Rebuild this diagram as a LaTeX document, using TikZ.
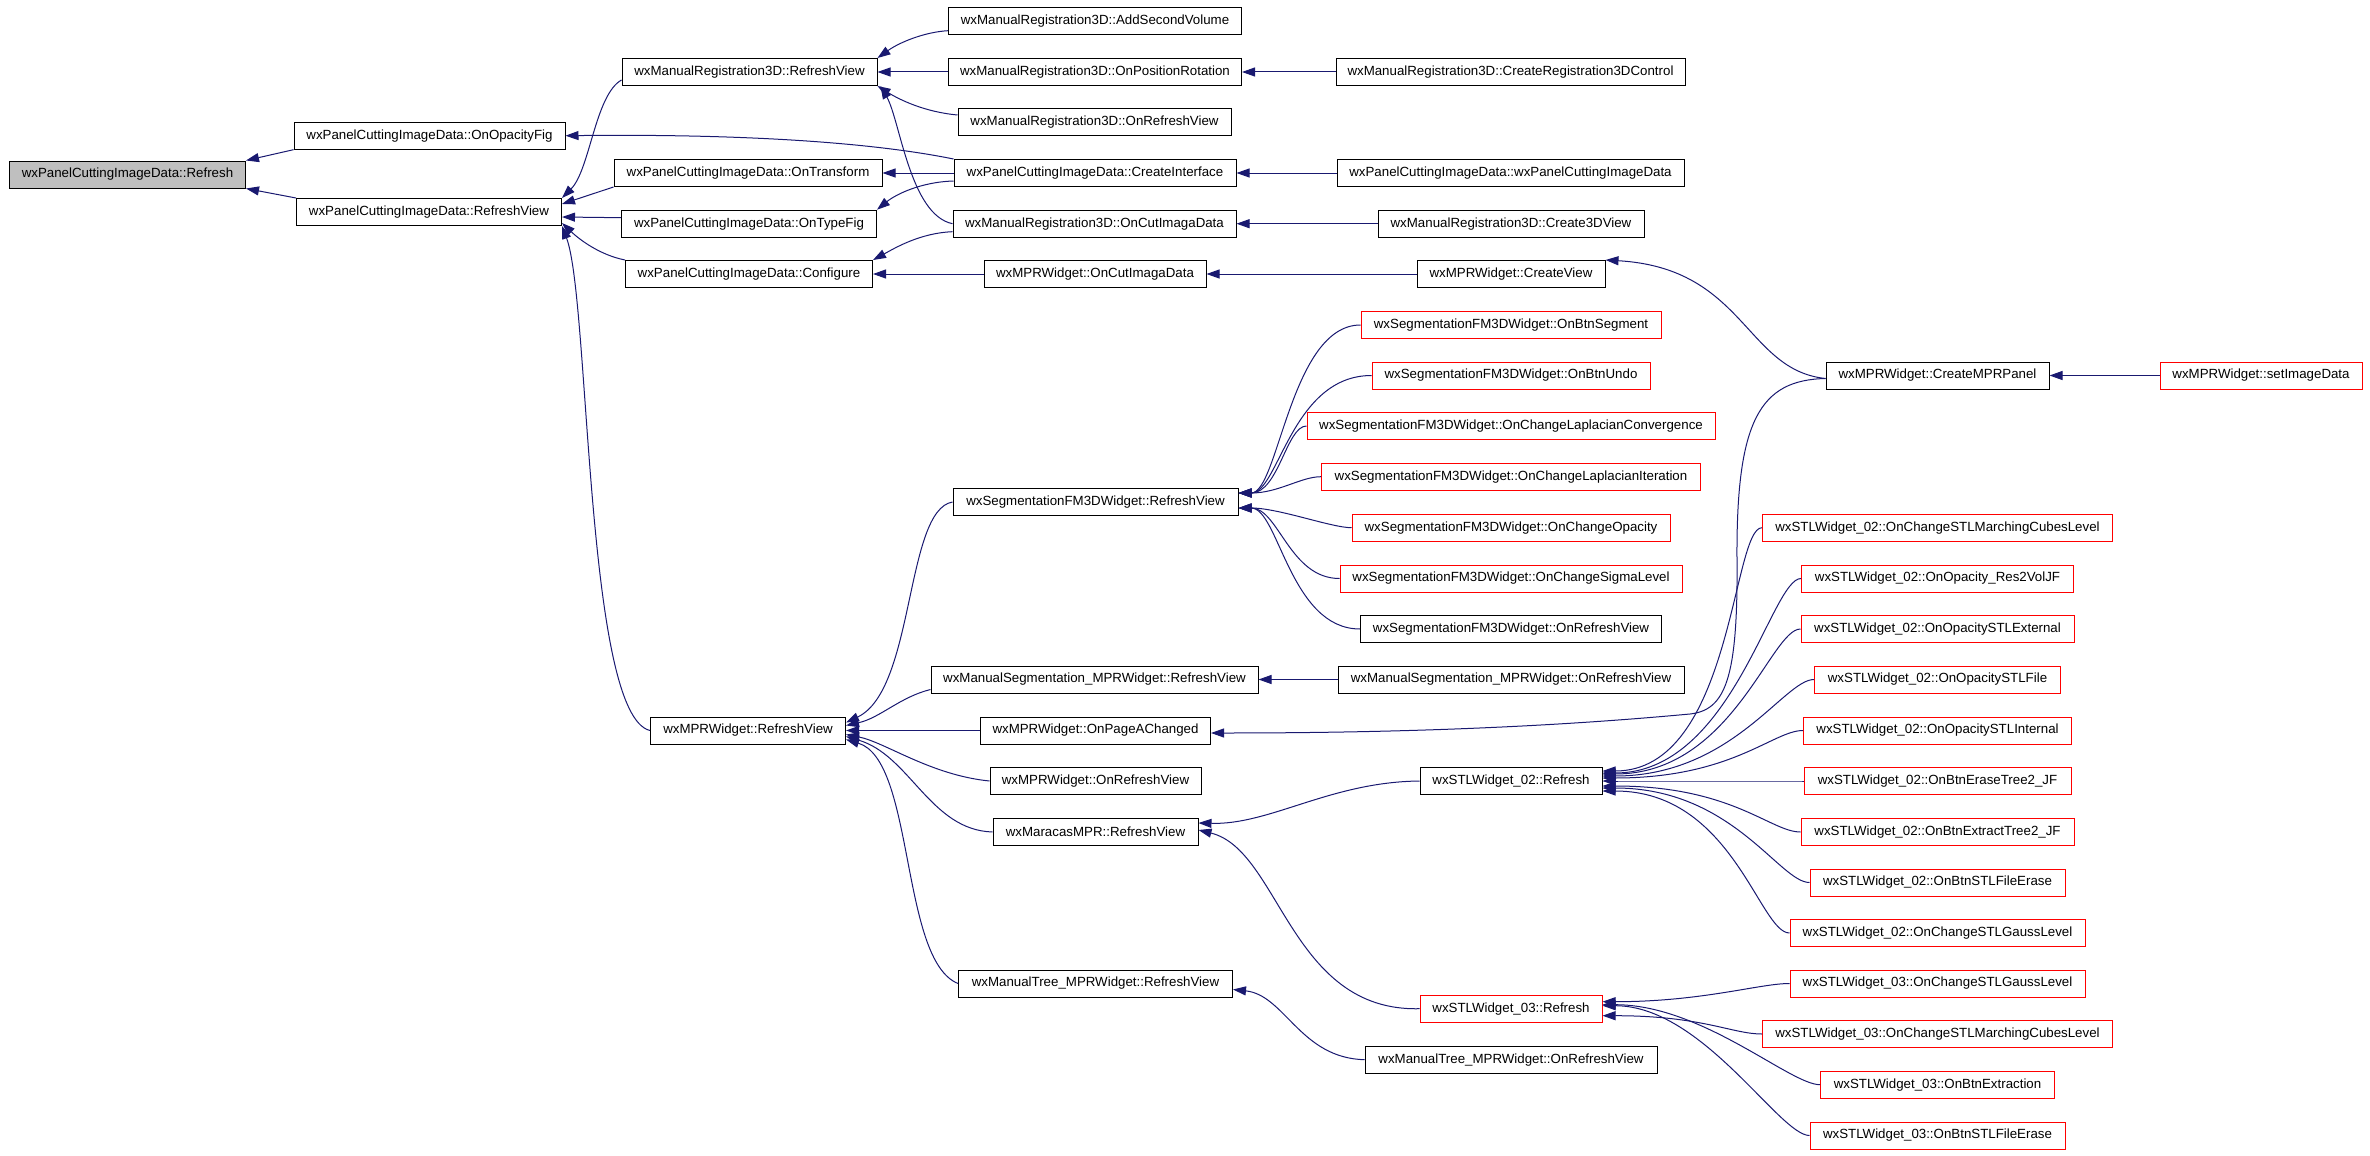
\documentclass[tikz,border=0pt]{standalone}
\usepackage{fontspec}
\setmainfont{Liberation Sans}
\usepackage{xcolor}
\usepackage{tikz}
\usetikzlibrary{arrows.meta}
\definecolor{callblue}{RGB}{25,25,112}

\begin{document}
\begin{tikzpicture}[x=1pt,y=1pt,
  fnbox/.style={draw=black,line width=1pt,minimum height=27,inner sep=0pt,font=\fontsize{13.3}{16}\selectfont},
  rootbox/.style={fnbox,fill=black!25},
  leafbox/.style={fnbox,draw=red},
  call/.style={draw=callblue,line width=1pt,-{Triangle[length=13pt,width=9pt]}}]
\useasboundingbox (0,0) rectangle (2370,-1156);

\node[rootbox,minimum width=236] (refresh) at (127.5,-174.5) {wxPanelCuttingImageData::Refresh};
\node[fnbox,minimum width=271] (opacityfig) at (429.5,-135.7) {wxPanelCuttingImageData::OnOpacityFig};
\node[fnbox,minimum width=265] (cutrefresh) at (429,-212) {wxPanelCuttingImageData::RefreshView};
\node[fnbox,minimum width=255] (regrefresh) at (749.5,-72) {wxManualRegistration3D::RefreshView};
\node[fnbox,minimum width=268] (transform) at (748,-173) {wxPanelCuttingImageData::OnTransform};
\node[fnbox,minimum width=255] (typefig) at (749,-223.7) {wxPanelCuttingImageData::OnTypeFig};
\node[fnbox,minimum width=247] (configure) at (749,-274) {wxPanelCuttingImageData::Configure};
\node[fnbox,minimum width=195] (mprrefresh) at (748,-730.5) {wxMPRWidget::RefreshView};

\node[fnbox,minimum width=293] (secondvol) at (1095,-20.7) {wxManualRegistration3D::AddSecondVolume};
\node[fnbox,minimum width=293] (posrot) at (1095,-72) {wxManualRegistration3D::OnPositionRotation};
\node[fnbox,minimum width=273] (regonrefresh) at (1094.5,-122) {wxManualRegistration3D::OnRefreshView};
\node[fnbox,minimum width=282] (interface) at (1095,-173) {wxPanelCuttingImageData::CreateInterface};
\node[fnbox,minimum width=283] (regcut) at (1094.5,-223.7) {wxManualRegistration3D::OnCutImagaData};
\node[fnbox,minimum width=222] (mprcut) at (1095,-274) {wxMPRWidget::OnCutImagaData};
\node[fnbox,minimum width=285] (segrefresh) at (1095.5,-502) {wxSegmentationFM3DWidget::RefreshView};
\node[fnbox,minimum width=327] (manrefresh) at (1094.5,-679.5) {wxManualSegmentation\_MPRWidget::RefreshView};
\node[fnbox,minimum width=230] (pagechanged) at (1095.5,-730.5) {wxMPRWidget::OnPageAChanged};
\node[fnbox,minimum width=211] (mpronrefresh) at (1095.5,-781) {wxMPRWidget::OnRefreshView};
\node[fnbox,minimum width=205] (maracasrefresh) at (1095.5,-832) {wxMaracasMPR::RefreshView};
\node[fnbox,minimum width=274] (treerefresh) at (1095.5,-983.5) {wxManualTree\_MPRWidget::RefreshView};

\node[fnbox,minimum width=349] (regcontrol) at (1510.5,-72) {wxManualRegistration3D::CreateRegistration3DControl};
\node[fnbox,minimum width=347] (cutctor) at (1510.5,-173) {wxPanelCuttingImageData::wxPanelCuttingImageData};
\node[fnbox,minimum width=266] (create3d) at (1511,-223.7) {wxManualRegistration3D::Create3DView};
\node[fnbox,minimum width=188] (createview) at (1511,-274) {wxMPRWidget::CreateView};
\foreach \n/\y/\w/\t in {segsegment/325/300/OnBtnSegment, segundo/375.5/278/OnBtnUndo,
    segconv/426/408/OnChangeLaplacianConvergence, segiter/476.7/379/OnChangeLaplacianIteration,
    segopacity/527.7/318/OnChangeOpacity, segsigma/578.5/342/OnChangeSigmaLevel}
  \node[leafbox,minimum width=\w] (\n) at (1511,-\y) {wxSegmentationFM3DWidget::\t};
\node[fnbox,minimum width=301] (segonrefresh) at (1511,-629) {wxSegmentationFM3DWidget::OnRefreshView};
\node[fnbox,minimum width=346] (manonrefresh) at (1511,-679.5) {wxManualSegmentation\_MPRWidget::OnRefreshView};
\node[fnbox,minimum width=182] (stltwo) at (1511,-781) {wxSTLWidget\_02::Refresh};
\node[leafbox,minimum width=182] (stlthree) at (1511,-1008.7) {wxSTLWidget\_03::Refresh};
\node[fnbox,minimum width=292] (treeonrefresh) at (1511,-1059.7) {wxManualTree\_MPRWidget::OnRefreshView};

\node[fnbox,minimum width=223] (mprpanel) at (1937.5,-375.5) {wxMPRWidget::CreateMPRPanel};
\node[leafbox,minimum width=202] (setimage) at (2261,-375.5) {wxMPRWidget::setImageData};
\foreach \n/\y/\w/\t in {twomarching/527.7/350/OnChangeSTLMarchingCubesLevel, tworesvol/578.5/272/OnOpacity\_Res2VolJF,
    twoexternal/629/273/OnOpacitySTLExternal, twofile/679.5/246/OnOpacitySTLFile,
    twointernal/730.5/268/OnOpacitySTLInternal, twoerase/781/267/OnBtnEraseTree2\_JF,
    twoextract/832/273/OnBtnExtractTree2\_JF, twofileerase/882.5/255/OnBtnSTLFileErase,
    twogauss/933/295/OnChangeSTLGaussLevel}
  \node[leafbox,minimum width=\w] (\n) at (1937.5,-\y) {wxSTLWidget\_02::\t};
\foreach \n/\y/\w/\t in {threegauss/983.5/295/OnChangeSTLGaussLevel, threemarching/1034/350/OnChangeSTLMarchingCubesLevel,
    threeextraction/1084.7/234/OnBtnExtraction, threefileerase/1135.5/255/OnBtnSTLFileErase}
  \node[leafbox,minimum width=\w] (\n) at (1937.5,-\y) {wxSTLWidget\_03::\t};

\draw[call] (opacityfig.south west) -- (refresh.north east);
\draw[call] (cutrefresh.north west) -- (refresh.south east);
\draw[call] (interface.north west) .. controls (860,-140) and (720,-134) .. (opacityfig.east);
\draw[call] ([yshift=-8]regrefresh.west) .. controls (595,-95) and (590,-170) .. (cutrefresh.north east);
\draw[call] (transform.south west) -- ([yshift=8]cutrefresh.east);
\draw[call] ([yshift=6]typefig.west) -- ([yshift=-5]cutrefresh.east);
\draw[call] (configure.north west) .. controls (600,-255) and (580,-240) .. ([yshift=3]cutrefresh.south east);
\draw[call] (mprrefresh.west) .. controls (585,-715) and (590,-300) .. (cutrefresh.south east);
\draw[call] ([yshift=-10]secondvol.west) .. controls (925,-32) and (900,-42) .. (regrefresh.north east);
\draw[call] (posrot.west) -- (regrefresh.east);
\draw[call] ([yshift=7]regonrefresh.west) .. controls (925,-112) and (900,-100) .. (regrefresh.south east);
\draw[call] (regcut.west) .. controls (910,-215) and (900,-120) .. ([xshift=3]regrefresh.south east);
\draw[call] (interface.west) -- (transform.east);
\draw[call] ([yshift=-8]interface.west) .. controls (920,-182) and (895,-195) .. (typefig.north east);
\draw[call] ([yshift=-8]regcut.west) .. controls (920,-233) and (895,-248) .. (configure.north east);
\draw[call] (mprcut.west) -- (configure.east);
\draw[call] (regcontrol.west) -- (posrot.east);
\draw[call] (cutctor.west) -- (interface.east);
\draw[call] (create3d.west) -- (regcut.east);
\draw[call] (createview.west) -- (mprcut.east);
\draw[call] ([yshift=-3]mprpanel.west) .. controls (1745,-370) and (1745,-268) .. (createview.north east);
\draw[call] (setimage.west) -- (mprpanel.east);
\draw[call] ([yshift=-3]mprpanel.west) .. controls (1760,-380) and (1736,-420) .. (1737,-560)
  .. controls (1738,-680) and (1725,-710) .. (1690,-714)
  .. controls (1550,-727) and (1400,-733) .. ([yshift=-2.5]pagechanged.east);
\draw[call] (segrefresh.west) .. controls (905,-510) and (915,-690) .. ([yshift=8]mprrefresh.east);
\draw[call] ([yshift=-10]manrefresh.west) .. controls (900,-697) and (880,-718) .. ([yshift=5]mprrefresh.east);
\draw[call] (pagechanged.west) -- (mprrefresh.east);
\draw[call] (mpronrefresh.west) .. controls (930,-775) and (885,-742) .. ([yshift=-4]mprrefresh.east);
\draw[call] (maracasrefresh.west) .. controls (930,-830) and (910,-755) .. ([yshift=-6]mprrefresh.east);
\draw[call] (treerefresh.west) .. controls (900,-960) and (915,-760) .. ([yshift=-9]mprrefresh.east);
\foreach \n/\s/\a in {segsegment/9/70, segundo/9/80, segconv/9/20, segiter/9/20,
    segopacity/-6/20, segsigma/-6/50, segonrefresh/-6/70}
  \draw[call] (\n.west) .. controls +(-\a,0) and +(40,0) .. ([yshift=\s]segrefresh.east);
\draw[call] (manonrefresh.west) -- (manrefresh.east);
\draw[call] (stltwo.west) .. controls (1330,-782) and (1270,-825) .. ([yshift=9]maracasrefresh.east);
\draw[call] (stlthree.west) .. controls (1290,-1012) and (1280,-850) .. ([yshift=2]maracasrefresh.east);
\draw[call] (treeonrefresh.west) .. controls (1300,-1058) and (1285,-995) .. ([yshift=-6]treerefresh.east);
\foreach \n/\s in {twomarching/10, tworesvol/8, twoexternal/7, twofile/5, twointernal/3,
    twoerase/0, twoextract/-5, twofileerase/-7, twogauss/-10}
  \draw[call] (\n.west) .. controls +(-30,0) and +(130,0) .. ([yshift=\s]stltwo.east);
\foreach \n/\s in {threegauss/7, threemarching/-7, threeextraction/4, threefileerase/3}
  \draw[call] (\n.west) .. controls +(-30,0) and +(100,0) .. ([yshift=\s]stlthree.east);
\end{tikzpicture}
\end{document}
